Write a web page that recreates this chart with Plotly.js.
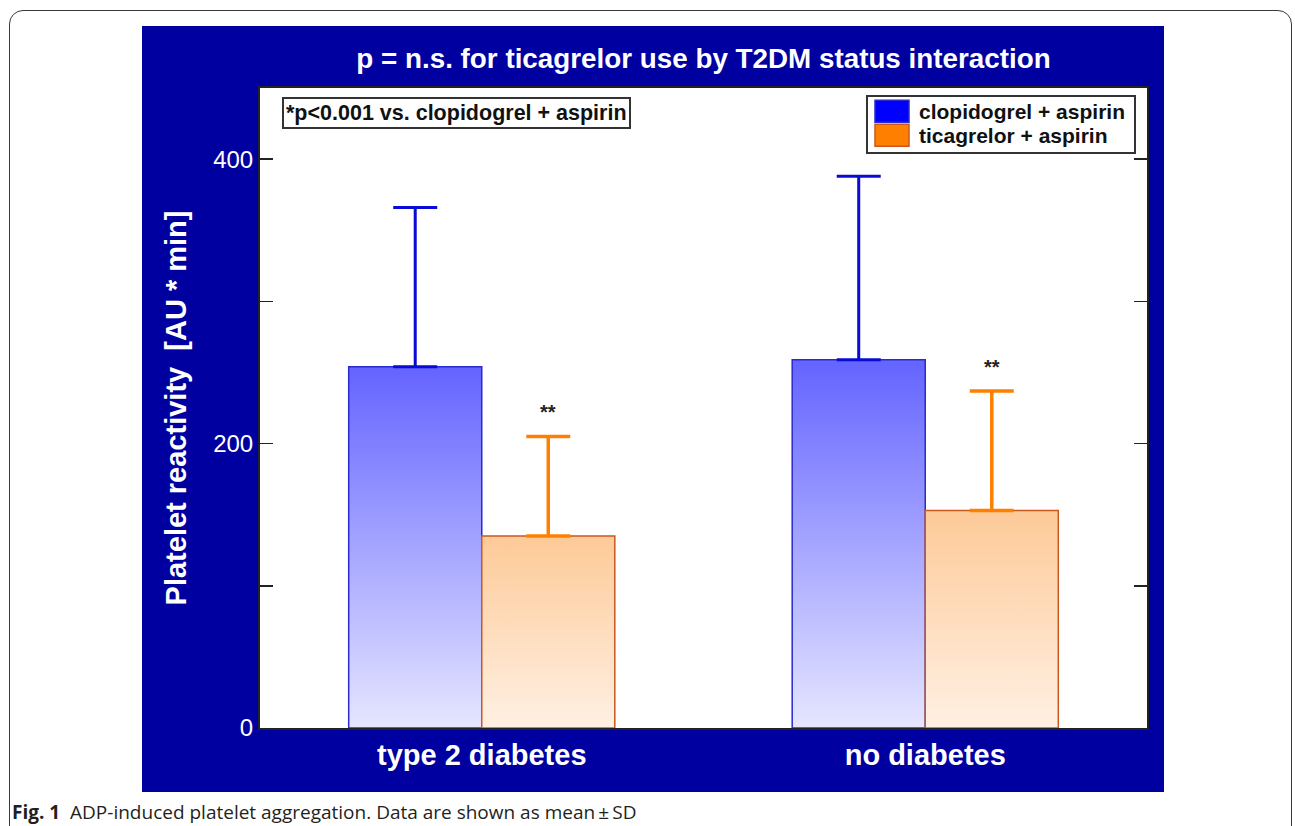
<!DOCTYPE html>
<html><head><meta charset="utf-8">
<script src="https://cdn.plot.ly/plotly-3.0.1.min.js"></script>
<style>
html,body{margin:0;padding:0;background:#fff;width:1295px;height:826px;overflow:hidden;}
#frame{position:absolute;left:9px;top:10px;width:1283px;height:900px;border:1.5px solid #3a3a3a;border-radius:14px;box-sizing:border-box;}
#chart{position:absolute;left:142px;top:26px;width:1022px;height:766px;}
#caption{position:absolute;left:12px;top:799px;font-family:'Open Sans','Noto Sans',sans-serif;font-size:19px;color:#231f20;white-space:nowrap;}
</style></head>
<body>
<div id="frame"></div>
<div id="chart"></div>
<div id="caption"><b>Fig. 1</b>&nbsp; ADP-induced platelet aggregation. Data are shown as mean&#8201;±&#8201;SD</div>
<script>
const categories = ['type 2 diabetes', 'no diabetes'];
const seriesNames = ['clopidogrel + aspirin', 'ticagrelor + aspirin'];
const clopidogrelMean = [254, 259];
const clopidogrelSD = [112, 129];
const ticagrelorMean = [135, 153];
const ticagrelorSD = [70, 84];
const yTickVals = [0, 100, 200, 300, 400];
const yTickText = ['0', '', '200', '', '400'];
const sigMarks = ['**', '**'];
const titleText = 'p = n.s. for ticagrelor use by T2DM status interaction';
const yTitleText = 'Platelet reactivity  [AU * min]';
const noteText = '*p<0.001 vs. clopidogrel + aspirin';

const FONT = 'Liberation Sans, Arial, sans-serif';
const BARGAP = 0.4;
const offset = (1 - BARGAP) / 4;

const data = [
  {
    type: 'bar', name: seriesNames[0], x: categories, y: clopidogrelMean,
    marker: {color: '#0000ff', line: {color: '#2a2ad0', width: 1.5}},
    error_y: {type: 'data', symmetric: false, array: clopidogrelSD, arrayminus: clopidogrelSD.map(() => 0),
              color: '#0a0ad6', thickness: 3, width: 22}
  },
  {
    type: 'bar', name: seriesNames[1], x: categories, y: ticagrelorMean,
    marker: {color: '#ff8000', line: {color: '#c8581e', width: 1.5}},
    error_y: {type: 'data', symmetric: false, array: ticagrelorSD, arrayminus: ticagrelorSD.map(() => 0),
              color: '#ff8000', thickness: 3.5, width: 22}
  }
];

const annotations = [
  {
    xref: 'paper', yref: 'paper', x: 0.0248, y: 0.986, xanchor: 'left', yanchor: 'top',
    text: noteText, showarrow: false, bgcolor: '#ffffff', bordercolor: '#333333', borderwidth: 2, borderpad: 2,
    font: {family: FONT, size: 21.5, color: '#111111', weight: 'bold'}
  }
];
sigMarks.forEach((m, i) => {
  annotations.push({
    xref: 'x', yref: 'y', x: i + offset, y: ticagrelorMean[i] + ticagrelorSD[i],
    xanchor: 'center', yanchor: 'bottom', yshift: 11, text: m, showarrow: false,
    font: {family: FONT, size: 20, color: '#222222', weight: 'bold'}
  });
});

const layout = {
  width: 1022, height: 766,
  margin: {l: 118, r: 17, t: 62, b: 64},
  paper_bgcolor: '#0000a0', plot_bgcolor: '#ffffff',
  font: {family: FONT},
  barmode: 'group', bargap: BARGAP, bargroupgap: 0,
  title: {text: titleText, font: {family: FONT, size: 27.8, color: '#ffffff', weight: 'bold'},
          x: 0.5, xref: 'paper', y: 1 - 32 / 766, yref: 'container', yanchor: 'middle'},
  xaxis: {
    type: 'category', range: [-0.5, 1.5], showline: true, mirror: true, linecolor: '#222222', linewidth: 2,
    ticks: '', showgrid: false, zeroline: false, ticklabelstandoff: 0,
    tickfont: {family: FONT, size: 29, color: '#ffffff', weight: 'bold'}
  },
  yaxis: {
    range: [0, 450], tickmode: 'array', tickvals: yTickVals, ticktext: yTickText,
    ticks: 'inside', ticklen: 13, tickwidth: 1.5, tickcolor: '#222222',
    showline: true, mirror: 'ticks', linecolor: '#222222', linewidth: 2,
    showgrid: false, zeroline: false,
    tickfont: {family: FONT, size: 24, color: '#ffffff'},
    title: {text: yTitleText, standoff: 18, font: {family: FONT, size: 29, color: '#ffffff', weight: 'bold'}}
  },
  showlegend: true,
  legend: {
    x: 0.9876, y: 0.989, xanchor: 'right', yanchor: 'top', xref: 'paper', yref: 'paper',
    bgcolor: '#ffffff', bordercolor: '#333333', borderwidth: 2, tracegroupgap: 0,
    font: {family: FONT, size: 21, color: '#111111', weight: 'bold'}
  },
  annotations: annotations
};

const gd = document.getElementById('chart');
Plotly.newPlot(gd, data, layout, {staticPlot: true, displayModeBar: false}).then(function () {
  const NS = 'http://www.w3.org/2000/svg';
  const svg = gd.querySelector('svg.main-svg');
  let defs = svg.querySelector('defs');
  if (!defs) { defs = document.createElementNS(NS, 'defs'); svg.insertBefore(defs, svg.firstChild); }
  function grad(id, top, bottom) {
    const g = document.createElementNS(NS, 'linearGradient');
    g.setAttribute('id', id);
    g.setAttribute('x1', '0'); g.setAttribute('y1', '0'); g.setAttribute('x2', '0'); g.setAttribute('y2', '1');
    [[0, top], [1, bottom]].forEach(function (s) {
      const st = document.createElementNS(NS, 'stop');
      st.setAttribute('offset', s[0]); st.setAttribute('stop-color', s[1]);
      g.appendChild(st);
    });
    defs.appendChild(g);
  }
  grad('gBlue', '#6464ff', '#e6e6ff');
  grad('gOrange', '#fdca98', '#fff0e3');
  const ids = ['gBlue', 'gOrange'];
  gd.querySelectorAll('.barlayer .trace').forEach(function (t, i) {
    t.querySelectorAll('.point path').forEach(function (p) {
      p.style.fill = 'url(#' + ids[i] + ')';
      p.style.fillOpacity = 1;
    });
  });
  gd.querySelectorAll('.legend .legendpoints path').forEach(function (p) {
    p.setAttribute('d', 'M-17,-11H17V11H-17Z');
  });
  // tighten legend row spacing and widen its left padding
  const EXTRA = 15;
  const legend = gd.querySelector('.legend');
  if (legend) {
    const lm = /translate\(\s*([-\d.]+)[ ,]+([-\d.]+)\s*\)/.exec(legend.getAttribute('transform') || '');
    if (lm) legend.setAttribute('transform', 'translate(' + (parseFloat(lm[1]) - EXTRA) + ',' + lm[2] + ')');
  }
  const items = gd.querySelectorAll('.legend .traces');
  let y0 = null;
  items.forEach(function (it, i) {
    const m = /translate\(\s*([-\d.]+)[ ,]+([-\d.]+)\s*\)/.exec(it.getAttribute('transform') || '');
    if (!m) return;
    const x = parseFloat(m[1]), y = parseFloat(m[2]);
    if (y0 === null) y0 = y;
    it.setAttribute('transform', 'translate(' + (x + 4) + ',' + (y0 - 6 + i * 24) + ')');
    const tx = it.querySelector('.legendtext');
    if (tx) tx.setAttribute('x', 47);
  });
  const bg = gd.querySelector('.legend .bg');
  if (bg) {
    bg.setAttribute('height', 57);
    bg.setAttribute('width', parseFloat(bg.getAttribute('width')) + EXTRA);
  }
  const clip = gd.querySelectorAll('clipPath[id^="legend"] rect');
  clip.forEach(function (r) { r.setAttribute('width', parseFloat(r.getAttribute('width')) + EXTRA + 20); });
});
</script>
</body></html>
